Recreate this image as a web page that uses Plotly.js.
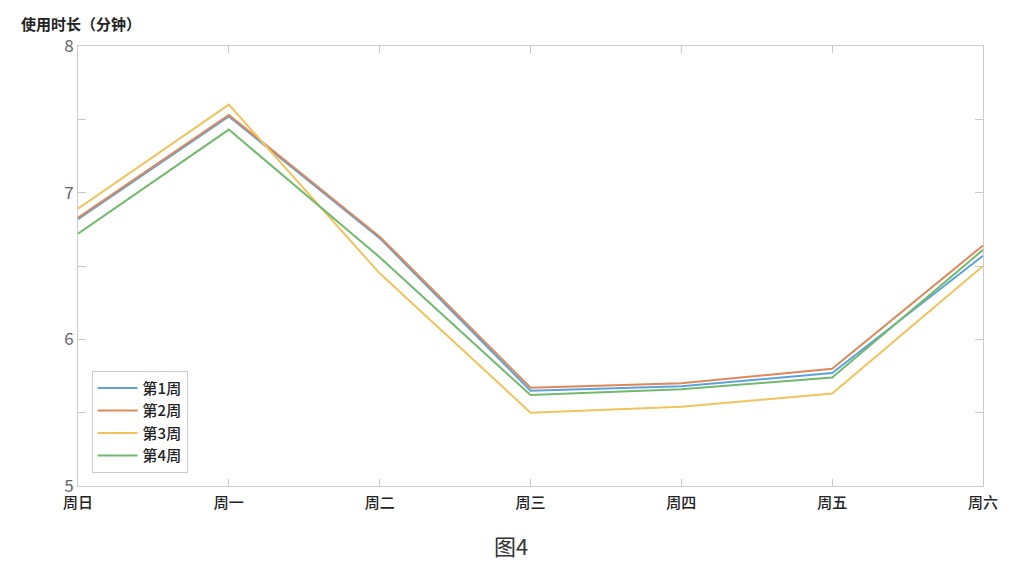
<!DOCTYPE html>
<html>
<head>
<meta charset="utf-8">
<script src="https://cdn.plot.ly/plotly-3.0.1.min.js"></script>
<style>html,body{margin:0;padding:0;background:#fff;}#chart{width:1019px;height:569px;}</style>
</head>
<body>
<div id="chart"></div>
<script>
const days = ['周日','周一','周二','周三','周四','周五','周六'];
const seriesNames = ['第1周','第2周','第3周','第4周'];
const week1 = [6.82, 7.52, 6.69, 5.65, 5.68, 5.77, 6.57];
const week2 = [6.83, 7.53, 6.70, 5.67, 5.70, 5.80, 6.64];
const week3 = [6.89, 7.60, 6.45, 5.50, 5.54, 5.63, 6.50];
const week4 = [6.72, 7.43, 6.56, 5.62, 5.66, 5.74, 6.61];
const yTickVals = [5, 5.5, 6, 6.5, 7, 7.5, 8];
const yTickText = ['5', '', '6', '', '7', '', '8'];

const colors = ['#5DA3D9', '#DE8758', '#F2C35A', '#72B96E'];
const allSeries = [week1, week2, week3, week4];
const font = 'Noto Sans CJK SC, Noto Sans, sans-serif';

const traces = allSeries.map((vals, i) => ({
  x: days, y: vals, type: 'scatter', mode: 'lines', name: seriesNames[i],
  line: {color: colors[i], width: 2}
}));

const layout = {
  width: 1019, height: 569,
  margin: {l: 78, r: 36, t: 46, b: 83},
  paper_bgcolor: '#fff', plot_bgcolor: '#fff',
  font: {family: font, color: '#222'},
  showlegend: true,
  legend: {
    x: 0.015, y: 0.03, xanchor: 'left', yanchor: 'bottom',
    bordercolor: '#cccccc', borderwidth: 1, bgcolor: '#fff',
    font: {size: 15, color: '#222', family: font, weight: 500},
    itemwidth: 40, tracegroupgap: 0
  },
  xaxis: {
    type: 'category', range: [0, 6],
    showline: true, linecolor: '#cccccc', linewidth: 1, mirror: 'allticks',
    ticks: 'inside', ticklen: 7, tickcolor: '#c8c8c8',
    showgrid: false, zeroline: false, ticklabelstandoff: 3,
    tickfont: {size: 15, color: '#222', family: font, weight: 500}
  },
  yaxis: {
    range: [5, 8], tickvals: yTickVals, ticktext: yTickText,
    showline: true, linecolor: '#cccccc', linewidth: 1, mirror: 'allticks',
    ticks: 'inside', ticklen: 8, tickcolor: '#c8c8c8',
    showgrid: false, zeroline: false,
    tickfont: {size: 17, color: '#666', family: font}
  },
  annotations: [
    {text: '使用时长（分钟）', xref: 'paper', yref: 'paper', x: -0.065, y: 1.052,
     xanchor: 'left', yanchor: 'middle', showarrow: false,
     font: {size: 15, color: '#222', family: font, weight: 600}},
    {text: '图4', xref: 'paper', yref: 'paper', x: 0.479, y: -0.134,
     xanchor: 'center', yanchor: 'middle', showarrow: false,
     font: {size: 22, color: '#333', family: font}}
  ]
};

Plotly.newPlot('chart', traces, layout, {displayModeBar: false, staticPlot: true});
</script>
</body>
</html>
